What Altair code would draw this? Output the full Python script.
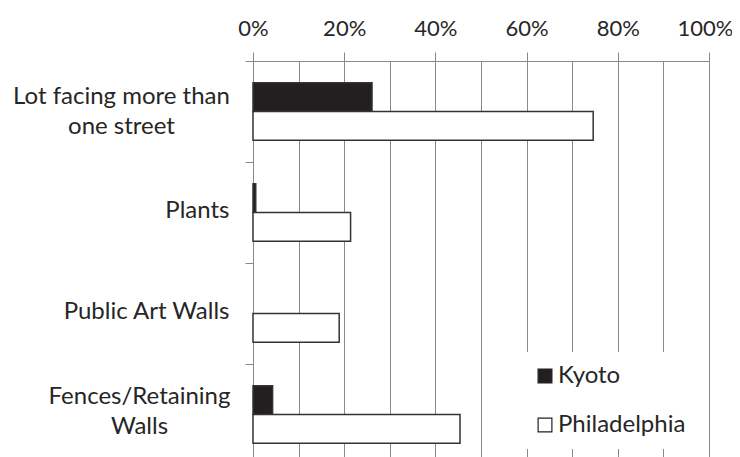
import altair as alt
import pandas as pd

categories = ["Lot facing more than one street", "Plants", "Public Art Walls", "Fences/Retaining Walls"]
series = ["Kyoto", "Philadelphia"]
kyoto = [0.261, 0.006, 0.0, 0.043]
philadelphia = [0.746, 0.214, 0.189, 0.454]
x_ticks = [0, 0.1, 0.2, 0.3, 0.4, 0.5, 0.6, 0.7, 0.8, 0.9, 1.0]
wrapped = {
    "Lot facing more than one street": ["Lot facing more than", "one street"],
    "Fences/Retaining Walls": ["Fences/Retaining", "Walls"],
}
colors = ["#231f20", "#ffffff"]

rows = []
for c, k, p in zip(categories, kyoto, philadelphia):
    rows.append({"category": c, "series": "Kyoto", "value": k})
    rows.append({"category": c, "series": "Philadelphia", "value": p})
df = pd.DataFrame(rows)

FONT = "Lato"
TEXT = "#262626"
GRID = "#8a8a8a"

label_expr = ""
for k, lines in wrapped.items():
    arr = "[" + ", ".join("'" + l + "'" for l in lines) + "]"
    label_expr += f"datum.label == '{k}' ? {arr} : "
label_expr += "datum.label"

y_axis = alt.Axis(
    title=None,
    grid=False,
    bandPosition=0,
    domainColor=GRID,
    tickColor=GRID,
    tickSize=8,
    labelFont=FONT,
    labelFontSize=24,
    labelColor=TEXT,
    labelLineHeight=30,
    labelLimit=400,
    labelExpr=label_expr,
    labelAlign={
        "condition": [
            {"test": "datum.value == 'Lot facing more than one street'", "value": "center"},
            {"test": "datum.value == 'Fences/Retaining Walls'", "value": "center"},
        ],
        "value": "right",
    },
    labelPadding={
        "condition": [
            {"test": "datum.value == 'Lot facing more than one street'", "value": 124},
            {"test": "datum.value == 'Fences/Retaining Walls'", "value": 106},
        ],
        "value": 16,
    },
    labelOffset={
        "condition": [
            {"test": "datum.value == 'Lot facing more than one street'", "value": -15},
            {"test": "datum.value == 'Fences/Retaining Walls'", "value": -18},
        ],
        "value": -2,
    },
)

x_axis = alt.Axis(
    title=None,
    orient="top",
    values=x_ticks,
    format=".0%",
    labelExpr="round(datum.value * 10) % 2 == 0 ? datum.label : ''",
    labelFlush=False,
    labelOffset={
        "condition": {"test": "datum.value >= 0.99", "value": -4},
        "value": 0,
    },
    grid=True,
    gridColor=GRID,
    domainColor=GRID,
    tickColor=GRID,
    tickSize=9,
    tickOpacity={
        "condition": {"test": "round(datum.value * 10) % 2 == 0", "value": 1},
        "value": 0,
    },
    labelFont=FONT,
    labelFontSize=22,
    labelColor=TEXT,
    labelPadding=12,
)

chart = (
    alt.Chart(df)
    .mark_bar(stroke="#333333", strokeWidth=1.5)
    .encode(
        y=alt.Y("category:N", sort=categories, scale=alt.Scale(paddingInner=0, paddingOuter=0), axis=y_axis),
        x=alt.X("value:Q", scale=alt.Scale(domain=[0, 1], nice=False), axis=x_axis),
        yOffset=alt.YOffset("series:N", sort=series, scale=alt.Scale(paddingOuter=0.75, paddingInner=0)),
        fill=alt.Fill(
            "series:N",
            scale=alt.Scale(domain=series, range=colors),
            legend=alt.Legend(
                title=None,
                orient="none",
                legendX=268,
                legendY=291,
                fillColor="white",
                padding=12,
                symbolType="square",
                symbolSize=190,
                symbolStrokeColor="#231f20",
                symbolStrokeWidth=1.2,
                labelFont=FONT,
                labelFontSize=24,
                labelColor=TEXT,
                labelOffset=1,
                rowPadding=25,
            ),
        ),
        strokeOpacity=alt.condition("datum.value > 0", alt.value(1), alt.value(0)),
    )
    .properties(
        width=456,
        height=404,
        autosize=alt.AutoSizeParams(type="none"),
        padding={"left": 245, "top": 53, "right": 23, "bottom": 0},
    )
    .configure_view(stroke=None)
    .configure(background="white")
)

chart.save("out.html", embed_options={"renderer": "svg", "actions": False})
